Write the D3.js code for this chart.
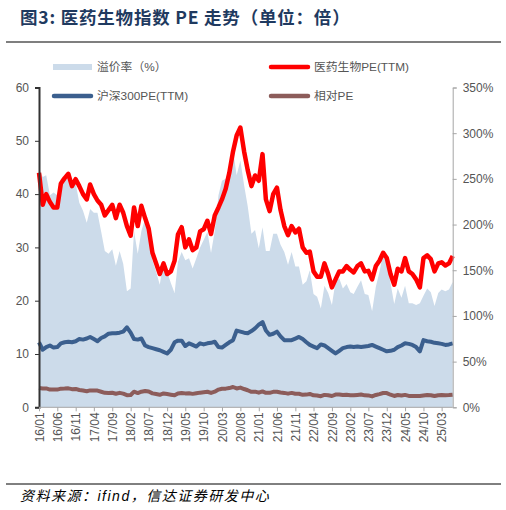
<!DOCTYPE html>
<html>
<head>
<meta charset="utf-8">
<script src="https://cdn.jsdelivr.net/npm/d3@7"></script>
<style>
body { margin: 0; background: #fff; }
text { font-family: "Liberation Sans", "Noto Sans CJK SC", sans-serif; }
</style>
</head>
<body>
<script>
// monthly readings, 2016/01 - 2025/06
var pharmaPE = [44.0, 38.0, 40.0, 38.5, 37.5, 37.5, 42.0, 43.0, 43.8, 41.5, 42.8, 41.5,
  40.0, 39.0, 41.8, 40.0, 38.8, 38.0, 36.0, 37.0, 38.0, 35.5, 38.0, 36.5,
  34.0, 32.2, 37.5, 34.0, 37.8, 35.5, 33.5, 29.0, 27.0, 25.0, 27.0, 25.0,
  25.5, 27.5, 32.4, 33.8, 30.0, 31.5, 29.5, 30.0, 33.0, 33.4, 35.0, 32.5,
  36.0, 37.5, 39.0, 41.0, 44.0, 48.0, 51.0, 52.5, 48.0, 44.5, 41.5, 43.5,
  42.5, 47.5, 39.0, 36.8, 40.0, 41.2, 37.0, 34.0, 32.3, 34.0, 32.8, 33.5,
  30.0, 29.0, 29.2, 25.5, 24.5, 24.5, 27.0, 25.0, 22.5, 24.0, 25.5, 25.5,
  26.5, 25.8, 25.3, 26.5, 27.0, 25.5, 25.6, 24.0, 26.5, 27.5, 29.0, 28.0,
  25.0, 23.0, 26.0, 25.5, 28.0, 25.5, 25.0, 24.0, 22.5, 28.0, 28.5, 27.8,
  25.5, 27.0, 27.2, 26.6, 27.0, 28.4];

var hs300PE = [12.2, 10.8, 11.3, 11.6, 11.2, 11.3, 12.0, 12.2, 12.3, 12.2, 12.4, 12.8,
  12.7, 12.9, 13.2, 12.8, 12.4, 13.0, 13.3, 13.8, 13.9, 13.9, 14.0, 14.2,
  15.0, 14.0, 12.8, 12.7, 12.9, 11.6, 11.3, 11.1, 10.9, 10.7, 10.4, 10.1,
  10.8, 12.2, 12.5, 12.5, 11.5, 12.0, 11.7, 11.4, 12.0, 11.8, 12.0, 12.1,
  12.3, 11.3, 11.2, 11.7, 12.2, 12.6, 14.4, 14.2, 14.0, 13.9, 14.3, 14.8,
  15.5, 16.0, 14.4, 13.6, 13.8, 14.2, 13.3, 12.6, 12.6, 12.6, 12.9, 13.2,
  12.8, 12.2, 11.7, 11.4, 11.1, 11.8, 11.6, 11.1, 10.6, 10.1, 10.6, 11.1,
  11.3, 11.4, 11.3, 11.4, 11.3, 11.4, 11.5, 11.7, 11.4, 11.1, 10.8, 10.5,
  10.6, 10.8, 11.3, 11.6, 12.0, 11.9, 11.7, 11.3, 10.5, 12.6, 12.4, 12.3,
  12.1, 12.0, 11.9, 11.7, 11.8, 12.0];

var relPE = [3.61, 3.52, 3.54, 3.32, 3.35, 3.32, 3.50, 3.52, 3.56, 3.40, 3.45, 3.24,
  3.15, 3.02, 3.17, 3.13, 3.13, 2.92, 2.71, 2.68, 2.73, 2.55, 2.71, 2.57,
  2.27, 2.30, 2.93, 2.68, 2.93, 3.06, 2.96, 2.61, 2.48, 2.34, 2.60, 2.48,
  2.36, 2.25, 2.59, 2.70, 2.61, 2.63, 2.52, 2.63, 2.75, 2.83, 2.92, 2.69,
  2.93, 3.32, 3.48, 3.50, 3.61, 3.81, 3.54, 3.70, 3.43, 3.20, 2.90, 2.94,
  2.74, 2.97, 2.71, 2.71, 2.90, 2.90, 2.78, 2.70, 2.56, 2.70, 2.54, 2.54,
  2.34, 2.38, 2.50, 2.24, 2.21, 2.08, 2.33, 2.25, 2.12, 2.38, 2.41, 2.30,
  2.35, 2.26, 2.24, 2.32, 2.39, 2.24, 2.23, 2.05, 2.32, 2.48, 2.69, 2.67,
  2.36, 2.13, 2.30, 2.20, 2.33, 2.14, 2.14, 2.12, 2.14, 2.22, 2.30, 2.26,
  2.11, 2.25, 2.29, 2.27, 2.29, 2.37];

// premium rate, %
var premium = [261, 252, 254, 232, 235, 232, 250, 252, 256, 240, 245, 224,
  215, 202, 217, 213, 213, 192, 171, 168, 173, 155, 171, 157,
  127, 130, 193, 168, 193, 206, 196, 161, 148, 134, 160, 148,
  136, 125, 159, 170, 161, 163, 152, 163, 175, 183, 192, 169,
  193, 232, 248, 250, 261, 281, 254, 270, 243, 220, 190, 194,
  174, 197, 171, 171, 190, 190, 178, 170, 156, 170, 154, 154,
  134, 138, 150, 124, 121, 108, 133, 125, 112, 138, 141, 130,
  135, 126, 124, 132, 139, 124, 123, 105, 132, 148, 169, 167,
  136, 113, 130, 120, 133, 114, 114, 112, 114, 122, 130, 126,
  111, 125, 129, 127, 129, 137];

var tickLabels = ["16/01", "16/06", "16/11", "17/04", "17/09", "18/02", "18/07", "18/12",
  "19/05", "19/10", "20/03", "20/08", "21/01", "21/06", "21/11", "22/04", "22/09",
  "23/02", "23/07", "23/12", "24/05", "24/10", "25/03"];
var leftTicks = [0, 10, 20, 30, 40, 50, 60];
var rightTicks = [0, 50, 100, 150, 200, 250, 300, 350];

var months = d3.timeMonth.range(new Date(2016, 0, 1), new Date(2025, 6, 1));
var parseTick = d3.timeParse("%y/%m");

var svg = d3.select("body").append("svg")
  .attr("width", 506)
  .attr("height", 510);

var plotL = 39, plotR = 452.7, plotT = 87.5, plotB = 407.3;

var x = d3.scaleTime()
  .domain([months[0], months[months.length - 1]])
  .range([plotL, plotR]);
var y = d3.scaleLinear().domain([0, 60]).range([plotB, plotT]);
var yR = d3.scaleLinear().domain([0, 350]).range([plotB, plotT]);

// title
svg.append("text")
  .attr("x", 20)
  .attr("y", 24)
  .attr("font-size", 17.5)
  .attr("font-weight", "bold")
  .attr("letter-spacing", 0.8)
  .attr("fill", "#1f3a60")
  .style("font-family", "'Noto Sans CJK SC', sans-serif")
  .text("图3: 医药生物指数 PE 走势（单位：倍）");

svg.append("line")
  .attr("x1", 6).attr("x2", 501)
  .attr("y1", 42).attr("y2", 42)
  .attr("stroke", "#7f7f7f")
  .attr("stroke-width", 2);

// premium area
svg.append("path")
  .datum(premium)
  .attr("fill", "#ccdbea")
  .attr("d", d3.area()
    .x(function(d, i) { return x(months[i]); })
    .y0(plotB)
    .y1(function(d) { return yR(d); }));

function drawLine(values, color, width) {
  svg.append("path")
    .datum(values)
    .attr("fill", "none")
    .attr("stroke", color)
    .attr("stroke-width", width)
    .attr("stroke-linejoin", "round")
    .attr("d", d3.line()
      .x(function(d, i) { return x(months[i]); })
      .y(function(d) { return y(d); }));
}

drawLine(hs300PE, "#3b5f8e", 4);
drawLine(relPE, "#8c5c5a", 4);
drawLine(pharmaPE, "#ff0000", 4.5);

// left axis
var gL = svg.append("g")
  .attr("transform", "translate(" + plotL + ",0)")
  .call(d3.axisLeft(y).tickValues(leftTicks).tickSize(4).tickPadding(6));
gL.select(".domain").attr("stroke", "#333").attr("stroke-width", 2);
gL.selectAll(".tick line").attr("stroke", "#333");
gL.selectAll("text").attr("font-size", 12).attr("fill", "#555");

// right axis
var gR = svg.append("g")
  .attr("transform", "translate(" + plotR + ",0)")
  .call(d3.axisRight(yR).tickValues(rightTicks).tickSize(4).tickPadding(6)
    .tickFormat(function(d) { return d + "%"; }));
gR.select(".domain").attr("stroke", "#a6a6a6");
gR.selectAll(".tick line").attr("stroke", "#a6a6a6");
gR.selectAll("text").attr("font-size", 12).attr("fill", "#555");

// bottom axis
var gB = svg.append("g")
  .attr("transform", "translate(0," + plotB + ")")
  .call(d3.axisBottom(x)
    .tickValues(tickLabels.map(parseTick))
    .tickFormat(d3.timeFormat("%y/%m"))
    .tickSize(4));
gB.select(".domain").attr("stroke", "#a6a6a6").attr("d", "M" + plotL + ",0H" + plotR);
gB.selectAll(".tick line").attr("stroke", "#a6a6a6");
gB.selectAll("text")
  .attr("font-size", 12)
  .attr("fill", "#555")
  .attr("text-anchor", "end")
  .attr("transform", "rotate(-90)")
  .attr("x", -5)
  .attr("y", 0)
  .attr("dy", "0.35em");

// legend
var legend = [
  { label: "溢价率（%）", type: "area", color: "#ccdbea", x: 53, y: 67 },
  { label: "医药生物PE(TTM)", type: "line", color: "#ff0000", x: 270, y: 67 },
  { label: "沪深300PE(TTM)", type: "line", color: "#3b5f8e", x: 53, y: 96 },
  { label: "相对PE", type: "line", color: "#8c5c5a", x: 270, y: 96 }
];
legend.forEach(function(l) {
  if (l.type === "area") {
    svg.append("rect")
      .attr("x", l.x).attr("y", l.y - 3)
      .attr("width", 39).attr("height", 6)
      .attr("fill", l.color);
  } else {
    svg.append("line")
      .attr("x1", l.x + 1).attr("x2", l.x + 38)
      .attr("y1", l.y).attr("y2", l.y)
      .attr("stroke", l.color)
      .attr("stroke-width", 4.5)
      .attr("stroke-linecap", "round");
  }
  svg.append("text")
    .attr("x", l.x + 44)
    .attr("y", l.y + 4)
    .attr("font-size", 11.8)
    .attr("fill", "#555")
    .text(l.label);
});

// footer
svg.append("line")
  .attr("x1", 6).attr("x2", 501)
  .attr("y1", 484).attr("y2", 484)
  .attr("stroke", "#000")
  .attr("stroke-width", 1);

svg.append("text")
  .attr("x", 20)
  .attr("y", 501)
  .attr("font-size", 14)
  .attr("font-style", "italic")
  .attr("letter-spacing", 1.5)
  .attr("fill", "#000")
  .text("资料来源：ifind，信达证券研发中心");
</script>
</body>
</html>
